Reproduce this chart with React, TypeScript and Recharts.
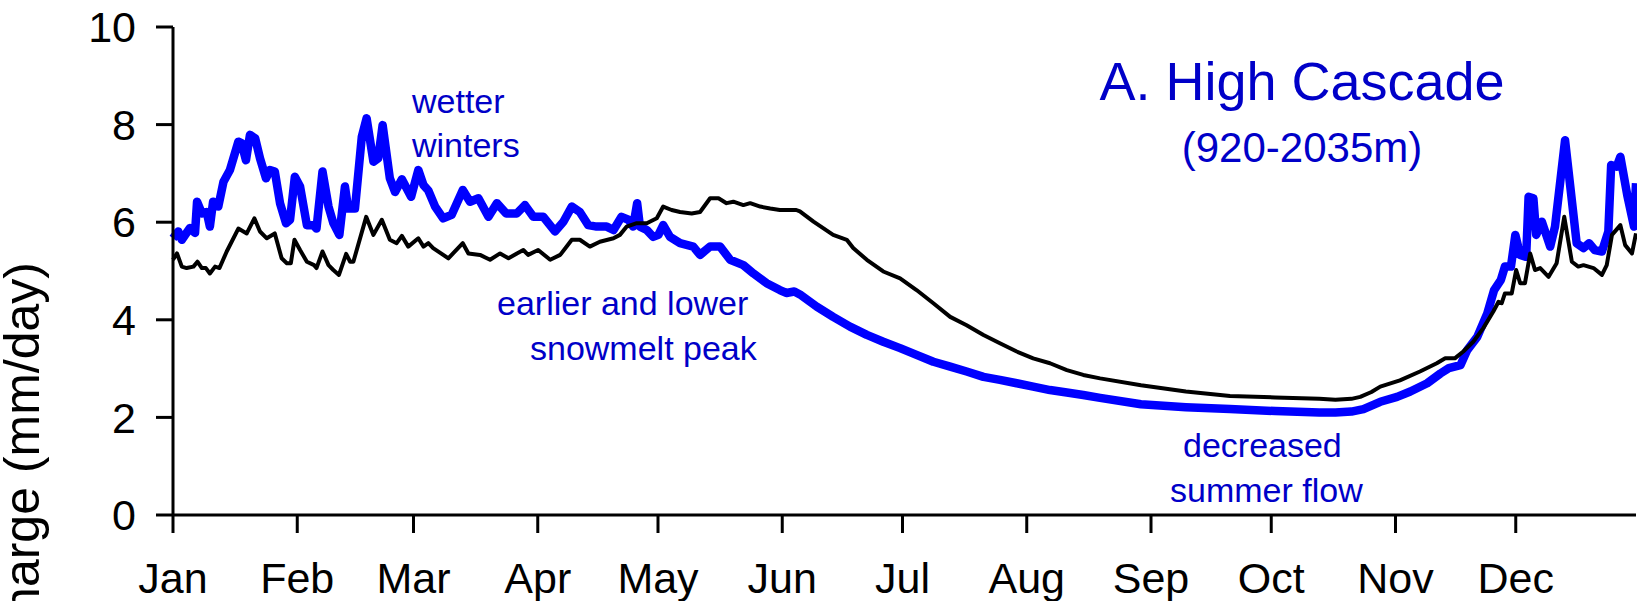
import { LineChart, Line, XAxis, YAxis } from "recharts";

const FONT = "'Liberation Sans', Arial, Helvetica, sans-serif";
const TEXT_BLUE = "#0000c8";

// day-of-year positions of the month ticks (leap-year calendar)
const monthTicks = [0, 31, 60, 91, 121, 152, 182, 213, 244, 274, 305, 335];
const monthLabels = ["Jan", "Feb", "Mar", "Apr", "May", "Jun", "Jul", "Aug", "Sep", "Oct", "Nov", "Dec"];
const flowTicks = [0, 2, 4, 6, 8, 10];

// [day of year, discharge mm/day] — historical mean hydrograph
const historical: [number, number][] = [
  [0, 5.23], [1, 5.36], [2.2, 5.09], [3.4, 5.06], [5.1, 5.09], [6.1, 5.19], [7.2, 5.06],
  [8.2, 5.06], [9.2, 4.95], [10.5, 5.09], [11.6, 5.06], [13.4, 5.4], [16.3, 5.87],
  [18.4, 5.77], [20.3, 6.08], [21.7, 5.81], [23.4, 5.67], [25.4, 5.77], [27.1, 5.26],
  [28.4, 5.16], [29.4, 5.16], [30.3, 5.64], [31.7, 5.43], [33.4, 5.19], [35.2, 5.12],
  [35.8, 5.06], [37.3, 5.4], [38.8, 5.12], [40, 5.02], [41.4, 4.92], [43.2, 5.35],
  [44.2, 5.19], [45, 5.19], [48.2, 6.11], [50, 5.74], [52.1, 6.05], [54.1, 5.64],
  [55.8, 5.57], [57.1, 5.72], [58.7, 5.5], [61.2, 5.67], [62.5, 5.5], [63.7, 5.57],
  [64.9, 5.47], [68.7, 5.26], [72.3, 5.57], [73.7, 5.36], [76.6, 5.33], [79.1, 5.23],
  [81.6, 5.36], [83.7, 5.26], [85.8, 5.36], [87.4, 5.43], [88.6, 5.33], [91.1, 5.43],
  [94.1, 5.23], [96.6, 5.33], [99.5, 5.64], [101.5, 5.64], [104, 5.5], [106.5, 5.6],
  [109.9, 5.67], [111.5, 5.74], [113.2, 5.91], [115.7, 5.98], [118.2, 5.98], [120.7, 6.08],
  [122.3, 6.32], [124.4, 6.25], [126.5, 6.21], [129.4, 6.18], [131.5, 6.21], [134, 6.49],
  [136.1, 6.49], [138.1, 6.39], [139.8, 6.42], [142.3, 6.35], [144, 6.39], [146.5, 6.32],
  [149, 6.28], [151.4, 6.25], [155.5, 6.25], [156.4, 6.22], [159.8, 6.01], [164.7, 5.74],
  [168.1, 5.64], [169.7, 5.47], [173.1, 5.23], [177.2, 4.99], [181.4, 4.85], [185.5, 4.61],
  [189.7, 4.34], [193.9, 4.06], [198, 3.89], [202.2, 3.69], [206.3, 3.52], [210.5, 3.35],
  [214.6, 3.21], [218.8, 3.11], [223, 2.97], [227.1, 2.87], [231.3, 2.8], [241.5, 2.66],
  [252.7, 2.53], [263.7, 2.44], [275, 2.41], [286, 2.38], [290, 2.36], [294, 2.38],
  [296.2, 2.42], [299, 2.52], [301.2, 2.63], [306.1, 2.76], [311.1, 2.94], [315.3, 3.11],
  [317.4, 3.21], [319.8, 3.21], [321.9, 3.35], [324.4, 3.55], [326.9, 3.83], [329.4, 4.17],
  [330.7, 4.37], [331.5, 4.34], [332.3, 4.54], [334, 4.54], [335.1, 5.02], [336.1, 4.75],
  [337.3, 4.75], [338.6, 5.36], [339.8, 5.02], [341.1, 5.06], [343.2, 4.88], [345.2, 5.16],
  [347.1, 6.11], [349, 5.19], [350.6, 5.09], [351.9, 5.12], [354.4, 5.06], [356.5, 4.92],
  [357.7, 5.12], [359, 5.74], [361.1, 5.94], [362.3, 5.53], [364, 5.36], [365, 5.77],
];

// [day of year, discharge mm/day] — projected warmer climate
const projected: [number, number][] = [
  [0, 5.67], [1.3, 5.81], [2.2, 5.64], [4.2, 5.88], [5.5, 5.78], [6, 6.42], [7.2, 6.18],
  [8.4, 6.21], [9.2, 5.91], [10, 6.42], [11.3, 6.32], [12.6, 6.83], [14.2, 7.07],
  [16.3, 7.65], [17.1, 7.62], [18.2, 7.27], [19.2, 7.79], [20.5, 7.72], [21.7, 7.31],
  [23.2, 6.9], [24.2, 7.07], [25.4, 7.04], [26.7, 6.39], [28.2, 5.98], [29.2, 6.05],
  [30.4, 6.93], [31.7, 6.73], [33.4, 5.94], [35, 5.94], [35.8, 5.87], [37.3, 7.04],
  [38.8, 6.32], [40, 5.98], [41.5, 5.74], [42.9, 6.73], [43.7, 6.28], [45.4, 6.28],
  [47.1, 7.75], [48.3, 8.13], [50, 7.24], [51.2, 7.31], [52.3, 7.99], [54.1, 6.9],
  [55.4, 6.62], [57.1, 6.88], [59.4, 6.52], [61.2, 7.07], [62.5, 6.76], [63.7, 6.65],
  [65.4, 6.32], [67.4, 6.08], [69.5, 6.15], [72.3, 6.66], [74.1, 6.42], [76.2, 6.49],
  [78.7, 6.11], [80.8, 6.39], [83.1, 6.18], [85.8, 6.18], [87.8, 6.35], [89.9, 6.11],
  [92.4, 6.11], [95.3, 5.81], [97.4, 6.01], [99.5, 6.32], [101.5, 6.21], [103.6, 5.94],
  [105.7, 5.91], [108.2, 5.91], [109.9, 5.84], [111.9, 6.11], [113.6, 6.05], [114.8, 5.91],
  [115.8, 6.39], [116.5, 5.91], [118.2, 5.84], [119.8, 5.7], [121.1, 5.74], [122.3, 5.94],
  [124, 5.7], [126.5, 5.57], [129.8, 5.5], [131.5, 5.33], [134, 5.5], [136.5, 5.5],
  [139, 5.23], [142.3, 5.12], [144.8, 4.95], [148.1, 4.75], [151.4, 4.61], [153, 4.55],
  [155, 4.58], [156.4, 4.52], [160.6, 4.27], [164.7, 4.06], [168.9, 3.86], [173.1, 3.69],
  [177.2, 3.55], [181.4, 3.42], [185.5, 3.28], [189.7, 3.14], [193.9, 3.04], [198, 2.94],
  [202.2, 2.83], [206.3, 2.77], [210.5, 2.7], [214.6, 2.63], [218.8, 2.56], [223, 2.51],
  [227.1, 2.46], [231.3, 2.4], [241.5, 2.27], [252.7, 2.21], [263.7, 2.17], [275, 2.13],
  [286, 2.1], [290, 2.1], [294, 2.12], [297, 2.17], [301.2, 2.32], [305.4, 2.42],
  [308.7, 2.53], [312.9, 2.7], [316.2, 2.9], [318.3, 3.01], [321.2, 3.07], [322.9, 3.38],
  [325.4, 3.65], [327.9, 4.13], [329.6, 4.61], [331.3, 4.82], [332.3, 5.09], [333.8, 5.09],
  [334.9, 5.74], [336.1, 5.33], [337.6, 5.29], [338.2, 6.52], [339.4, 6.49], [340.1, 5.74],
  [341.5, 6.01], [343.6, 5.5], [344.8, 5.91], [347.3, 7.68], [350.2, 5.57], [351.9, 5.47],
  [353.3, 5.57], [354.7, 5.43], [356.5, 5.4], [358.1, 5.81], [358.8, 7.17], [360.2, 7.14],
  [361.1, 7.34], [362.8, 6.56], [364.5, 5.91], [365, 6.8],
];

const toRows = (pts: [number, number][]) => pts.map(([day, q]) => ({ day, q }));

const frame = { stroke: "#000", strokeWidth: 3 };

export default function App() {
  return (
    <div style={{ position: "absolute", left: 0, top: 0, width: 1637, height: 601, background: "#fff" }}>
      <LineChart width={1637} height={601} margin={{ top: 27, right: 1, bottom: 0, left: 0 }}>
        <XAxis
          xAxisId="bottom"
          type="number"
          dataKey="day"
          domain={[0, 365]}
          ticks={monthTicks}
          interval={0}
          tickFormatter={(d: number) => monthLabels[monthTicks.indexOf(d)]}
          height={86}
          tickSize={18}
          tickMargin={29}
          axisLine={frame}
          tickLine={frame}
          tick={{ fill: "#000", fontSize: 43, fontFamily: FONT }}
        />
        <XAxis xAxisId="top" orientation="top" type="number" dataKey="day" domain={[0, 365]} height={0} tick={false} tickLine={false} axisLine={frame} />
        <YAxis
          yAxisId="left"
          type="number"
          domain={[0, 10]}
          ticks={flowTicks}
          interval={0}
          width={173}
          tickSize={17}
          tickMargin={20}
          axisLine={frame}
          tickLine={frame}
          tick={{ fill: "#000", fontSize: 43, fontFamily: FONT }}
        />
        <YAxis yAxisId="right" orientation="right" type="number" domain={[0, 10]} width={0} tick={false} tickLine={false} axisLine={frame} />
        <Line
          xAxisId="bottom"
          yAxisId="left"
          data={toRows(projected)}
          dataKey="q"
          type="linear"
          stroke="#0000ff"
          strokeWidth={8.5}
          strokeLinejoin="round"
          dot={false}
          isAnimationActive={false}
        />
        <Line
          xAxisId="bottom"
          yAxisId="left"
          data={toRows(historical)}
          dataKey="q"
          type="linear"
          stroke="#000"
          strokeWidth={4}
          strokeLinejoin="round"
          dot={false}
          isAnimationActive={false}
        />
      </LineChart>
      <svg width={1637} height={601} style={{ position: "absolute", left: 0, top: 0, pointerEvents: "none" }} fontFamily={FONT}>
        <text transform="translate(39, 262) rotate(-90)" textAnchor="end" fontSize={50} fill="#000">
          Discharge (mm/day)
        </text>
        <text x={1302} y={100} textAnchor="middle" fontSize={54} fill={TEXT_BLUE}>A. High Cascade</text>
        <text x={1302} y={162} textAnchor="middle" fontSize={42} fill={TEXT_BLUE}>(920-2035m)</text>
        <g fontSize={34} fill={TEXT_BLUE}>
          <text x={412} y={113}>wetter</text>
          <text x={412} y={157}>winters</text>
          <text x={497} y={315}>earlier and lower</text>
          <text x={530} y={360}>snowmelt peak</text>
          <text x={1183} y={457}>decreased</text>
          <text x={1170} y={502}>summer flow</text>
        </g>
      </svg>
    </div>
  );
}
